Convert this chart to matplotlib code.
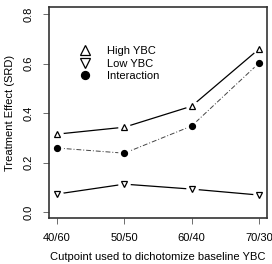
import matplotlib
matplotlib.use("Agg")
import matplotlib.pyplot as plt

plt.rcParams['font.family'] = ['Liberation Sans', 'DejaVu Sans']

# data
cutpoints = ["40/60", "50/50", "60/40", "70/30"]
high_ybc = [0.315, 0.343, 0.428, 0.659]
low_ybc = [0.073, 0.113, 0.093, 0.069]
interaction = [0.259, 0.238, 0.348, 0.602]

x = list(range(1, len(cutpoints) + 1))

fig = plt.figure(figsize=(2.72, 2.64), dpi=100)
ax = fig.add_axes([0.180, 0.174, 0.802, 0.799])

# lines first, then white blobs to get R's type="b" gaps, then markers
ax.plot(x, high_ybc, color="black", lw=0.9, zorder=1)
ax.plot(x, low_ybc, color="black", lw=0.9, zorder=1)
ax.plot(x, interaction, color="#444444", lw=0.7, ls=(0, (5, 2, 1, 2)), zorder=1)
for ys in (high_ybc, low_ybc, interaction):
    ax.plot(x, ys, ls="none", marker="o", ms=9, mfc="white", mec="none", zorder=2)

ax.plot(x, high_ybc, ls="none", marker="^", ms=5, mfc="white", mec="black", mew=0.9,
        zorder=3, label="High YBC")
ax.plot(x, low_ybc, ls="none", marker="v", ms=5, mfc="white", mec="black", mew=0.9,
        zorder=3, label="Low YBC")
ax.plot(x, interaction, ls="none", marker="o", ms=4.2, mfc="black", mec="black",
        zorder=3, label="Interaction")

ax.set_xlim(0.88, 4.12)
ax.set_ylim(-0.024, 0.828)
ax.set_xticks(x)
ax.set_xticklabels(cutpoints)
ax.set_yticks([0.0, 0.2, 0.4, 0.6, 0.8])
ax.set_yticklabels(["0.0", "0.2", "0.4", "0.6", "0.8"], rotation=90, va="center")
ax.tick_params(labelsize=8, length=4, width=0.6, color="#555555", pad=7)
for s in ax.spines.values():
    s.set_linewidth(1.2)
    s.set_color("#333333")

ax.set_xlabel("Cutpoint used to dichotomize baseline YBC", fontsize=8, labelpad=6)
ax.set_ylabel("Treatment Effect (SRD)", fontsize=8, labelpad=6)

ax.legend(loc="upper left", bbox_to_anchor=(0.12, 0.835), frameon=False, fontsize=8,
          handletextpad=1.5, labelspacing=0.2, borderaxespad=0, handlelength=1.0,
          markerscale=1.35)

fig.savefig("out.png", dpi=100)
